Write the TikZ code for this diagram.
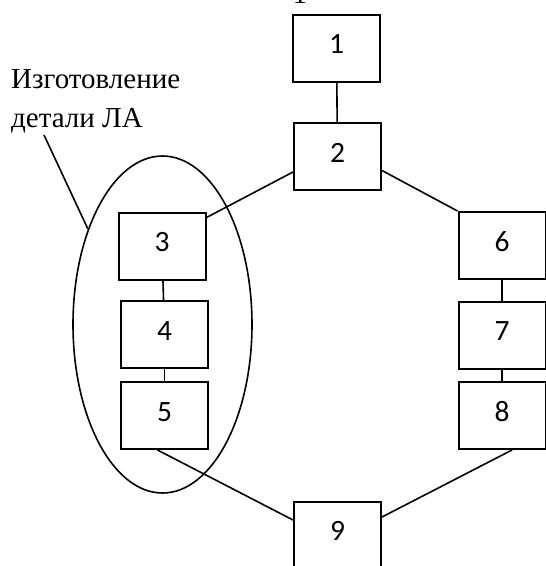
\documentclass[tikz,border=0pt]{standalone}
\usepackage{fontspec}
\setmainfont{Liberation Serif}
\newfontfamily\digitfont{Carlito}
\usetikzlibrary{shapes.geometric}

\tikzset{
  blockbox/.style={draw, line width=2pt, minimum width=87pt, minimum height=67pt,
    inner sep=0pt, text height=18pt, text depth=7pt, font=\digitfont\fontsize{29.5}{31}\selectfont},
  link/.style={line width=1.6pt},
  groupoval/.style={draw, ellipse, line width=1.6pt, inner sep=0pt},
}

\begin{document}
\begin{tikzpicture}[x=1pt, y=-1pt]
  \useasboundingbox (0,0) rectangle (546,566);

  % tail of the line above the figure
  \node[anchor=base, inner sep=0pt, font=\fontsize{28.5}{30}\selectfont] (topmark) at (300,3) {1};

  % blocks
  \node[blockbox] (b1) at (336.5,48)   {1};
  \node[blockbox] (b2) at (337.5,156.5) {2};
  \node[blockbox] (b3) at (162,246)    {3};
  \node[blockbox] (b4) at (164.5,334.5) {4};
  \node[blockbox] (b5) at (164.5,415.5) {5};
  \node[blockbox] (b6) at (502,245.5)  {6};
  \node[blockbox] (b7) at (502,335)    {7};
  \node[blockbox] (b8) at (502,415.5)  {8};
  \node[blockbox] (b9) at (337.5,535)  {9};

  % group around blocks 3-5
  \node[groupoval, minimum width=179pt, minimum height=337pt] (grp) at (162.5,324.5) {};

  % caption of the group (base anchor sits on the last line)
  \node[anchor=base west, inner sep=0pt, align=left,
        font=\fontsize{29}{39}\selectfont] (lbl) at (11,127)
        {Изготовление\\детали ЛА};
  \coordinate (lblend) at (44,135);

  % connectors
  \draw[link] (b1) -- (b2);
  \draw[link] ([yshift=-15.5pt]b2.west) -- ([yshift=-6pt]b3.north east);
  \draw[link] ([yshift=-14pt]b2.east) -- (b6.north west);
  \draw[link] (b3) -- (b4);
  \draw[link] (b4) -- (b5);
  \draw[link] (b6) -- (b7);
  \draw[link] (b7) -- (b8);
  \draw[link] ([xshift=-7pt]b5.south) -- ([yshift=15pt]b9.west);
  \draw[link] ([xshift=10pt]b8.south) -- ([yshift=18pt]b9.east);
  \draw[link] (lblend) -- (grp.128);
\end{tikzpicture}
\end{document}
